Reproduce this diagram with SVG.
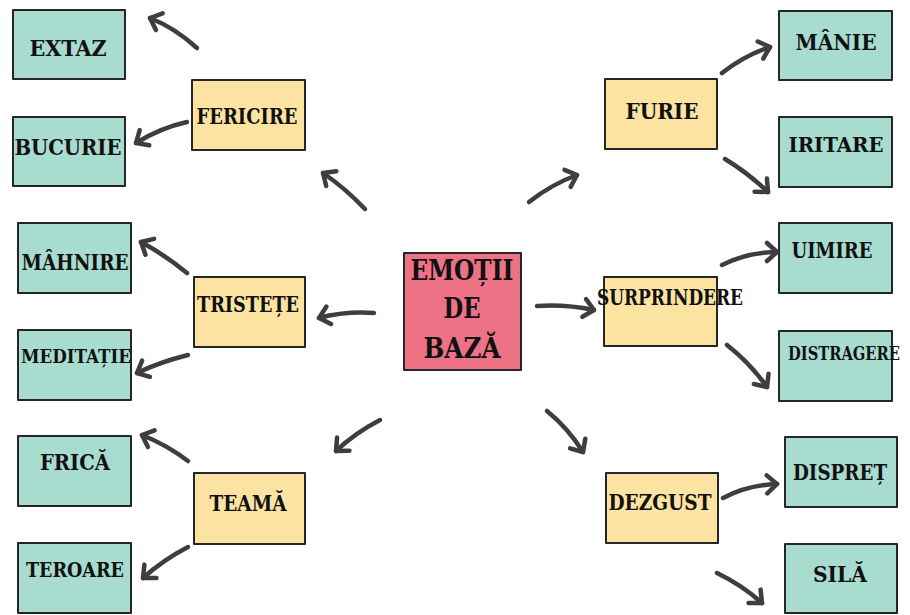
<svg xmlns="http://www.w3.org/2000/svg" width="910" height="615" viewBox="0 0 910 615">
<defs>
<marker id="ah" markerUnits="userSpaceOnUse" markerWidth="24" markerHeight="24" refX="13" refY="12" orient="auto">
<path d="M3,3 L13,12 L3,21" fill="none" stroke="#3d3d42" stroke-width="4.5" stroke-linecap="round" stroke-linejoin="round"/>
</marker>
</defs>
<style>
.box{stroke:#262626;stroke-width:2;stroke-linejoin:round}
.g{fill:#a8dccf}
.y{fill:#fce3a2}
.p{fill:#ed7285}
text{font-family:"DejaVu Serif Condensed","DejaVu Serif","Liberation Serif",serif;font-stretch:condensed;font-weight:bold;fill:#111;text-anchor:middle;font-size:22px}
.c path{fill:none;stroke:#3d3d42;stroke-width:4.5;stroke-linecap:round;marker-end:url(#ah)}
</style>
<rect width="910" height="615" fill="#ffffff"/>
<g id="center"><rect class="box p" x="404" y="253" width="117" height="117"/>
<text x="462" y="280" style="font-size:27.5px" textLength="103" lengthAdjust="spacingAndGlyphs">EMOȚII</text><text x="462" y="318" style="font-size:27.5px" textLength="37" lengthAdjust="spacingAndGlyphs">DE</text><text x="462" y="358" style="font-size:27.5px" textLength="77" lengthAdjust="spacingAndGlyphs">BAZĂ</text></g>
<g id="fericire"><rect class="box y" x="192" y="80" width="113" height="70"/><text x="247" y="124" textLength="101" lengthAdjust="spacingAndGlyphs">FERICIRE</text></g>
<g id="tristete"><rect class="box y" x="194" y="277" width="111" height="70"/><text x="248" y="312" textLength="102" lengthAdjust="spacingAndGlyphs">TRISTEȚE</text></g>
<g id="teama"><rect class="box y" x="194" y="473" width="111" height="71"/><text x="248" y="511" textLength="77" lengthAdjust="spacingAndGlyphs">TEAMĂ</text></g>
<g id="furie"><rect class="box y" x="605" y="79" width="112" height="70"/><text x="662" y="119" textLength="73" lengthAdjust="spacingAndGlyphs">FURIE</text></g>
<g id="surprindere"><rect class="box y" x="604" y="277" width="113" height="69"/><text x="670" y="305" textLength="146" lengthAdjust="spacingAndGlyphs">SURPRINDERE</text></g>
<g id="dezgust"><rect class="box y" x="606" y="473" width="112" height="70"/><text x="660" y="510" textLength="103" lengthAdjust="spacingAndGlyphs">DEZGUST</text></g>
<g id="extaz"><rect class="box g" x="13" y="10" width="112" height="69"/><text x="68" y="56" textLength="77" lengthAdjust="spacingAndGlyphs">EXTAZ</text></g>
<g id="bucurie"><rect class="box g" x="13" y="117" width="112" height="69"/><text x="68" y="155" textLength="107" lengthAdjust="spacingAndGlyphs">BUCURIE</text></g>
<g id="mahnire"><rect class="box g" x="18" y="223" width="113" height="70"/><text x="75" y="270" textLength="107" lengthAdjust="spacingAndGlyphs">MÂHNIRE</text></g>
<g id="meditatie"><rect class="box g" x="18" y="330" width="113" height="70"/><text x="76" y="363" style="font-size:19px" textLength="110" lengthAdjust="spacingAndGlyphs">MEDITAȚIE</text></g>
<g id="frica"><rect class="box g" x="18" y="436" width="113" height="70"/><text x="75" y="470" textLength="70" lengthAdjust="spacingAndGlyphs">FRICĂ</text></g>
<g id="teroare"><rect class="box g" x="18" y="543" width="113" height="70"/><text x="75" y="577" style="font-size:21px" textLength="98" lengthAdjust="spacingAndGlyphs">TEROARE</text></g>
<g id="manie"><rect class="box g" x="779" y="11" width="113" height="69"/><text x="836" y="50" textLength="81" lengthAdjust="spacingAndGlyphs">MÂNIE</text></g>
<g id="iritare"><rect class="box g" x="779" y="117" width="113" height="70"/><text x="836" y="152" style="font-size:21px" textLength="95" lengthAdjust="spacingAndGlyphs">IRITARE</text></g>
<g id="uimire"><rect class="box g" x="779" y="223" width="113" height="70"/><text x="832" y="258" textLength="81" lengthAdjust="spacingAndGlyphs">UIMIRE</text></g>
<g id="distragere"><rect class="box g" x="779" y="331" width="113" height="70"/><text x="844" y="360" style="font-size:18px" textLength="112" lengthAdjust="spacingAndGlyphs">DISTRAGERE</text></g>
<g id="dispret"><rect class="box g" x="785" y="437" width="112" height="70"/><text x="840" y="480" textLength="94" lengthAdjust="spacingAndGlyphs">DISPREȚ</text></g>
<g id="sila"><rect class="box g" x="785" y="544" width="112" height="69"/><text x="840" y="582" textLength="54" lengthAdjust="spacingAndGlyphs">SILĂ</text></g>
<g id="connectors" class="c">
<path d="M197,48 Q175,28 150,18"/>
<path d="M187,122 Q160,128 136,143"/>
<path d="M365,209 Q345,188 323,173"/>
<path d="M374,313 Q345,311 319,318"/>
<path d="M187,273 Q165,255 141,242"/>
<path d="M188,355 Q160,362 137,373"/>
<path d="M380,420 Q355,433 336,451"/>
<path d="M188,461 Q167,445 142,435"/>
<path d="M188,547 Q163,560 143,578"/>
<path d="M529,202 Q552,184 577,175"/>
<path d="M722,73 Q745,55 770,47"/>
<path d="M725,159 Q748,173 768,192"/>
<path d="M537,306 Q565,304 594,310"/>
<path d="M722,265 Q748,252 777,252"/>
<path d="M727,345 Q750,363 767,387"/>
<path d="M547,411 Q568,428 583,452"/>
<path d="M723,498 Q748,485 777,484"/>
<path d="M717,573 Q742,585 762,603"/>
</g>
</svg>
